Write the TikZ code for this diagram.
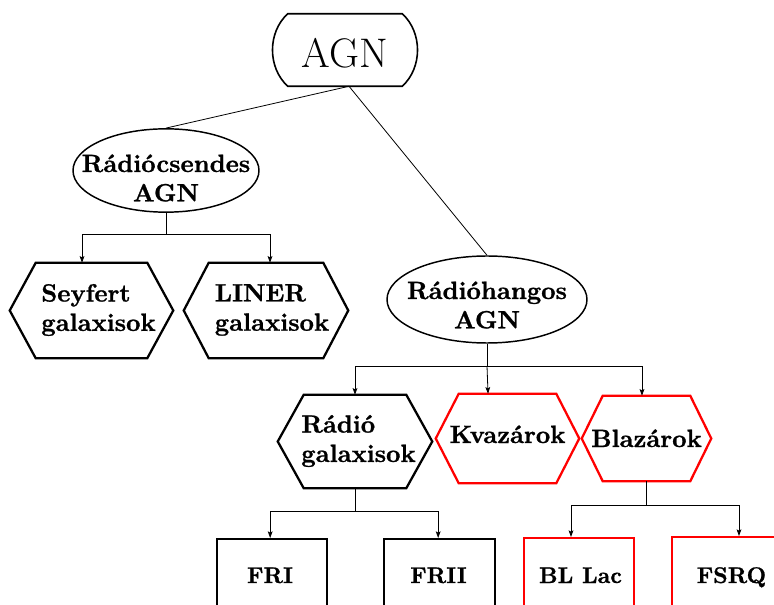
\documentclass[tikz,border=0pt]{standalone}
\usepackage{fontspec}
\newfontfamily\bxten{lmroman10-bold.otf}[FakeBold=0.9]
\usetikzlibrary{shapes.geometric,arrows.meta}
\newcommand\hexoutline[3]{%
  \draw[#3] ([xshift=#2]#1.north west) -- ([xshift=-#2]#1.north east) -- (#1.east)
    -- ([xshift=-#2]#1.south east) -- ([xshift=#2]#1.south west) -- (#1.west) -- cycle;}
\begin{document}
\begin{tikzpicture}[x=0.75pt,y=-0.75pt,
  lbl/.style={font=\fontsize{18.75}{22}\bxten, align=center, inner sep=0pt},
  lblleft/.style={lbl, align=left},
  small/.style={font=\fontsize{17}{20}\bxten, inner sep=0pt, anchor=base},
  hexbox/.style={rectangle, inner sep=0pt},
  ell/.style={ellipse, draw, line width=1.1pt, inner sep=0pt},
  hexline/.style={line width=1.7pt, line join=miter},
  redline/.style={hexline, draw=red},
  conn/.style={line width=0.6pt},
  arr/.style={conn, -{Stealth[length=5pt,width=3.6pt,inset=1pt]}},
  boxb/.style={rectangle, draw, line width=1.5pt, minimum width=82.5pt, minimum height=90pt, inner sep=0pt}]
\useasboundingbox (0,0) rectangle (774,605);
\clip (0,0) rectangle (774,605);

% top AGN
\node[hexbox, minimum width=108pt, minimum height=54pt] (agn) at (345,50) {};
\draw[line width=1.2pt] ([xshift=11.25pt]agn.north west) -- ([xshift=-11.25pt]agn.north east)
  .. controls ([xshift=4pt,yshift=-14pt]agn.north east) and ([xshift=4pt,yshift=14pt]agn.south east) .. ([xshift=-11.25pt]agn.south east)
  -- ([xshift=11.25pt]agn.south west)
  .. controls ([xshift=-4pt,yshift=14pt]agn.south west) and ([xshift=-4pt,yshift=-14pt]agn.north west) .. cycle;
\node[font=\fontsize{31}{36}\selectfont, inner sep=0pt, anchor=base] (agnt) at (345,68) {AGN};

% ellipses
\node[ell, minimum width=139.5pt, minimum height=62.5pt] (rc) at (166,170.5) {};
\node[lbl] (rct) at (166,178) {Rádiócsendes\\AGN};
\node[ell, minimum width=150pt, minimum height=65.25pt] (rh) at (487,299.5) {};
\node[lbl] (rht) at (487,305) {Rádióhangos\\AGN};

% hexagons
\node[hexbox, minimum width=122.25pt, minimum height=71.25pt] (sey) at (91.5,310.5) {};
\hexoutline{sey}{19.5pt}{hexline}
\node[lblleft] (seyt) at (98.5,310) {Seyfert\\galaxisok};
\node[hexbox, minimum width=123pt, minimum height=71.25pt] (lin) at (266,310.5) {};
\hexoutline{lin}{18.75pt}{hexline}
\node[lblleft] (lint) at (272,310) {LINER\\galaxisok};
\node[hexbox, minimum width=115.5pt, minimum height=69.75pt] (rg) at (355,441.5) {};
\hexoutline{rg}{19.5pt}{hexline}
\node[lblleft] (rgt) at (358.5,441) {Rádió\\galaxisok};
\node[hexbox, minimum width=107.25pt, minimum height=66.75pt] (kv) at (507.5,438.5) {};
\hexoutline{kv}{17.25pt}{redline}
\node[lbl, anchor=base] (kvt) at (507.5,443) {Kvazárok};
\node[hexbox, minimum width=96.75pt, minimum height=63.75pt] (bz) at (646.5,438.5) {};
\hexoutline{bz}{15.75pt}{redline}
\node[lbl, anchor=base] (bzt) at (646.5,447) {Blazárok};

% bottom boxes
\node[boxb] (fri) at (271.5,599) {};
\node[small] (frit) at (270,583) {FRI};
\node[boxb, minimum width=83.25pt] (frii) at (439.5,599) {};
\node[small] (friit) at (438.5,583) {FRII};
\node[boxb, draw=red] (bl) at (579,598) {};
\node[small] (blt) at (580.5,583) {BL Lac};
\node[boxb, draw=red, minimum width=90pt] (fs) at (732,597) {};
\node[small] (fst) at (731.5,583) {FSRQ};

% connectors from AGN
\draw[conn] ([xshift=3pt]agn.south) -- (rc.north);
\draw[conn] ([xshift=3pt]agn.south) -- (rh.north);

% fork 1
\coordinate (f1) at (166,234);
\draw[conn] (rc.south) -- (f1);
\draw[arr] (f1) -| ([xshift=-7.1pt]sey.north);
\draw[arr] (f1) -| ([xshift=3pt]lin.north);

% fork 2
\coordinate (f2) at (487,366);
\draw[conn] (rh.south) -- (f2);
\draw[arr] (f2) -| (rg.north);
\draw[arr] (f2) -- ([xshift=-14.6pt]kv.north);
\draw[arr] (f2) -| ([xshift=-3.4pt]bz.north);

% fork 3
\coordinate (f3) at (355,511);
\draw[conn] (rg.south) -- (f3);
\draw[arr] (f3) -| ([xshift=-1pt]fri.north);
\draw[arr] (f3) -| ([xshift=-1pt]frii.north);

% fork 4
\coordinate (f4) at (646.5,505);
\draw[conn] (bz.south) -- (f4);
\draw[arr] (f4) -| ([xshift=-6pt]bl.north);
\draw[arr] (f4) -| ([xshift=5.25pt]fs.north);
\end{tikzpicture}
\end{document}
